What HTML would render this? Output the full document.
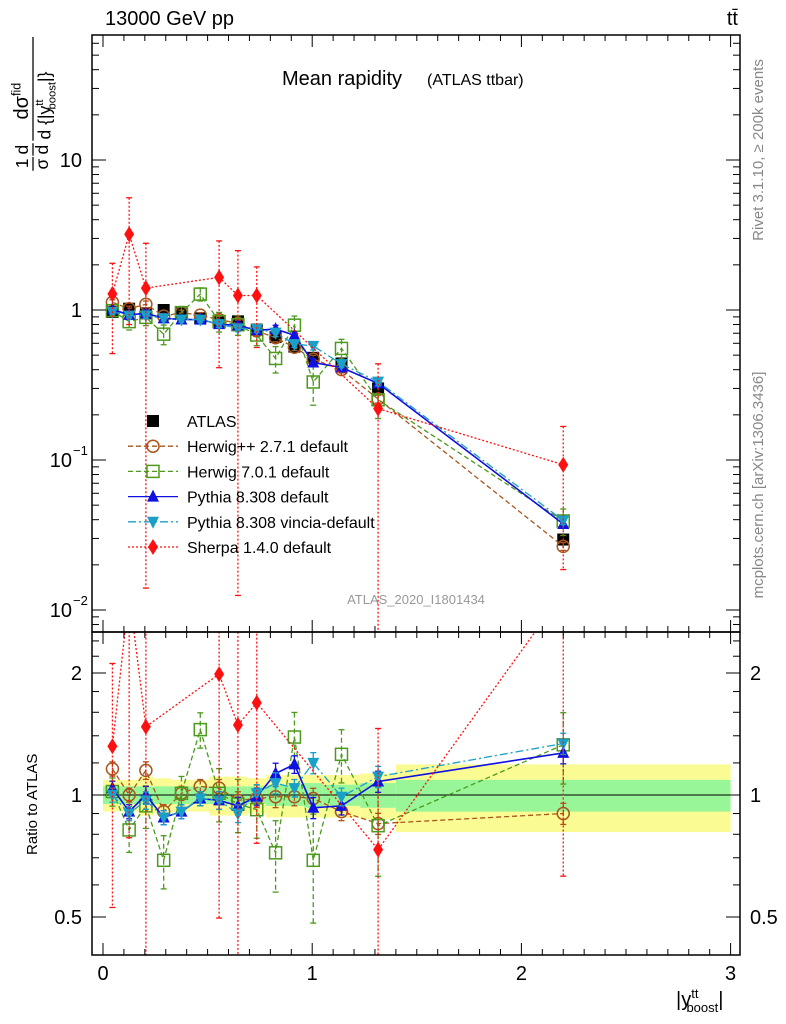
<!DOCTYPE html>
<html><head><meta charset="utf-8"><style>
html,body{margin:0;padding:0;background:#fff;overflow:hidden;width:786px;height:1024px}
svg{display:block}
svg text{font-family:"Liberation Sans",sans-serif}
</style></head><body>
<svg id="c" width="786" height="1024" xmlns="http://www.w3.org/2000/svg"></svg>
<script>
const xc=[0.045,0.125,0.205,0.29,0.375,0.465,0.555,0.645,0.735,0.825,0.915,1.005,1.14,1.315,2.2];
const edges=[0,0.09,0.17,0.24,0.33,0.42,0.51,0.6,0.69,0.78,0.87,0.96,1.05,1.23,1.4,3.0];
const atlas=[0.97,1.02,0.95,1.0,0.95,0.88,0.83,0.84,0.74,0.66,0.57,0.48,0.44,0.30,0.0295];
const greenBand=[0.05,0.05,0.05,0.05,0.05,0.05,0.05,0.05,0.05,0.06,0.06,0.07,0.06,0.07,0.09];
const yellowBand=[0.09,0.09,0.11,0.1,0.09,0.09,0.11,0.11,0.1,0.12,0.12,0.12,0.12,0.13,0.19];
const rHpp=[1.16,1.0,1.15,0.91,1.01,1.05,1.04,0.97,0.98,0.99,0.99,0.98,0.91,0.85,0.9];
const rH7=[1.02,0.82,0.94,0.69,1.01,1.45,1.01,0.95,0.92,0.72,1.39,0.69,1.26,0.84,1.33];
const rPy=[1.04,0.91,1.0,0.88,0.91,0.98,0.97,0.94,0.99,1.13,1.19,0.93,0.94,1.08,1.27];
const rVi=[1.0,0.9,0.97,0.88,0.91,0.98,0.97,0.9,1.01,1.07,1.04,1.2,0.99,1.11,1.34];
const sherX=[0.045,0.125,0.205,0.555,0.645,0.735,1.315,2.2];
const sherV=[1.28,3.2,1.4,1.65,1.25,1.25,0.22,0.093];
const sherErr=[0.6,0.75,0.99,0.75,0.99,0.55,0.99,0.8];
const errH7=[0.08,0.12,0.12,0.15,0.1,0.1,0.15,0.15,0.15,0.2,0.15,0.3,0.15,0.25,0.2];
const errSmall=[0.04,0.04,0.05,0.04,0.04,0.04,0.05,0.05,0.05,0.06,0.05,0.06,0.05,0.06,0.06];

const NS="http://www.w3.org/2000/svg",svg=document.getElementById('c');
const L=92,R=740,T=35,MB=632,RB=955;
const X=v=>103+(v)*209.2;
const Y=v=>310-150*Math.log10(v);
const YR=v=>795-122*Math.log2(v);
function el(t,a,p){const e=document.createElementNS(NS,t);for(const k in a)e.setAttribute(k,a[k]);(p||svg).appendChild(e);return e}
function txt(x,y,s,a,p){const e=el('text',Object.assign({x:x,y:y,'font-size':18},a||{}),p);e.textContent=s;return e}
const defs=el('defs',{});
const c1=el('clipPath',{id:'cm'},defs);el('rect',{x:L,y:T,width:R-L,height:MB-T},c1);
const c2=el('clipPath',{id:'cr'},defs);el('rect',{x:L,y:MB,width:R-L,height:RB-MB},c2);
const gm=el('g',{'clip-path':'url(#cm)'});
const gr=el('g',{'clip-path':'url(#cr)'});
for(let i=0;i<xc.length;i++){
 const y=el('rect',{x:X(edges[i]),y:YR(1+yellowBand[i]),width:X(edges[i+1])-X(edges[i]),height:YR(1-yellowBand[i])-YR(1+yellowBand[i]),fill:'#fbfb94'},gr);
 
 const g=el('rect',{x:X(edges[i]),y:YR(1+greenBand[i]),width:X(edges[i+1])-X(edges[i]),height:YR(1-greenBand[i])-YR(1+greenBand[i]),fill:'#98f598'},gr);
 
}
el('line',{x1:L,x2:R,y1:YR(1),y2:YR(1),stroke:'#000','stroke-width':1},gr);
function marker(g,type,x,y,col){
 const s=6;let m;
 if(type=='sq')m=el('rect',{x:x-s,y:y-s,width:2*s,height:2*s,fill:'#000'},g);
 else if(type=='osq')m=el('rect',{x:x-s,y:y-s,width:2*s,height:2*s,fill:'none',stroke:col,'stroke-width':1.5},g);
 else if(type=='oc')m=el('circle',{cx:x,cy:y,r:6,fill:'none',stroke:col,'stroke-width':1.5},g);
 else if(type=='up')m=el('polygon',{points:`${x},${y-7} ${x-6},${y+5} ${x+6},${y+5}`,fill:col},g);
 else if(type=='dn')m=el('polygon',{points:`${x},${y+7} ${x-6},${y-5} ${x+6},${y-5}`,fill:col},g);
 else m=el('polygon',{points:`${x},${y-8} ${x-5},${y} ${x},${y+8} ${x+5},${y}`,fill:col},g);
 return m;
}
function series(g,name,xs,vals,errs,col,dash,type,Yf,sw){
 const pts=xs.map((x,i)=>X(x)+','+Yf(vals[i])).join(' ');
 if(dash!==null){const l=el('polyline',{points:pts,fill:'none',stroke:col,'stroke-width':sw||1.3,'stroke-dasharray':dash},g);
 }
 xs.forEach((x,i)=>{
  const lo=Math.max(vals[i]*(1-errs[i]),1e-4),hi=vals[i]*(1+errs[i]);
  el('line',{x1:X(x),x2:X(x),y1:Yf(hi),y2:Yf(lo),stroke:col,'stroke-width':1.3,'stroke-dasharray':dash||''},g);
  el('line',{x1:X(x)-3,x2:X(x)+3,y1:Yf(hi),y2:Yf(hi),stroke:col,'stroke-width':1.3},g);
  el('line',{x1:X(x)-3,x2:X(x)+3,y1:Yf(lo),y2:Yf(lo),stroke:col,'stroke-width':1.3},g);
  const m=marker(g,type,X(x),Yf(vals[i]),col);
  
 });
}
const mHpp=atlas.map((a,i)=>a*rHpp[i]),mH7=atlas.map((a,i)=>a*rH7[i]),mPy=atlas.map((a,i)=>a*rPy[i]),mVi=atlas.map((a,i)=>a*rVi[i]);
const sherR=sherX.map((x,i)=>sherV[i]/atlas[xc.indexOf(x)]);
const cols={hpp:'#a8561c',h7:'#4c9a1c',py:'#1010e0',vi:'#1aa0c8',sh:'#ff1010'};
[[gm,Y,{a:atlas,hpp:mHpp,h7:mH7,py:mPy,vi:mVi,sh:sherV}],[gr,YR,{a:null,hpp:rHpp,h7:rH7,py:rPy,vi:rVi,sh:sherR}]].forEach(([g,Yf,d])=>{
 if(d.a)series(g,'atlas',xc,d.a,errSmall.map(e=>e*0.5),'#000',null,'sq',Yf);
 series(g,'herwigpp',xc,d.hpp,errSmall,cols.hpp,'5,3','oc',Yf);
 series(g,'herwig7',xc,d.h7,errH7,cols.h7,'5,3','osq',Yf);
 series(g,'pythia',xc,d.py,errSmall,cols.py,'','up',Yf,1.6);
 series(g,'vincia',xc,d.vi,errSmall,cols.vi,'8,3,2,3','dn',Yf);
 series(g,'sherpa',sherX,d.sh,sherErr,cols.sh,'2,2','dia',Yf);
});
let f=el('rect',{x:L,y:T,width:R-L,height:MB-T,fill:'none',stroke:'#000','stroke-width':1.5});
f=el('rect',{x:L,y:MB,width:R-L,height:RB-MB,fill:'none',stroke:'#000','stroke-width':1.5});
for(let v=0;v<=3.001;v+=0.1){
 const big=Math.abs(v-Math.round(v))<1e-6,len=big?12:6;
 [[MB,-1],[T,1],[RB,-1],[MB,1]].forEach(([y0,d])=>el('line',{x1:X(v),x2:X(v),y1:y0,y2:y0+d*len,stroke:'#000'}));
 if(big){const t=txt(X(v),980,String(Math.round(v)),{'text-anchor':'middle','font-size':20});}
}
for(let e=-3;e<=1;e++)for(let k=1;k<10;k++){const v=k*Math.pow(10,e),y=Y(v);if(y<T||y>MB)continue;
 const len=k==1?14:7;el('line',{x1:L,x2:L+len,y1:y,y2:y,stroke:'#000'});el('line',{x1:R,x2:R-len,y1:y,y2:y,stroke:'#000'});}
txt(82,167,'10',{'text-anchor':'end','font-size':20});
txt(82,317,'1',{'text-anchor':'end','font-size':20});
let t=txt(72,467,'10',{'text-anchor':'end','font-size':20});txt(73,455,'−1',{'font-size':13});
t=txt(72,617,'10',{'text-anchor':'end','font-size':20});txt(73,605,'−2',{'font-size':13});
[0.5,0.6,0.7,0.8,0.9,1,1.2,1.4,1.6,1.8,2,2.2,2.4].forEach(v=>{const y=YR(v),len=(v==0.5||v==1||v==2)?14:7;
 el('line',{x1:L,x2:L+len,y1:y,y2:y,stroke:'#000'});el('line',{x1:R,x2:R-len,y1:y,y2:y,stroke:'#000'});});
[[2,'2'],[1,'1'],[0.5,'0.5']].forEach(([v,s])=>{txt(82,YR(v)+7,s,{'text-anchor':'end','font-size':20});txt(750,YR(v)+7,s,{'font-size':20});});
txt(105,25,'13000 GeV pp',{'font-size':20});
txt(738,25,'tt̄',{'font-size':20,'text-anchor':'end'});
t=txt(282,85,'Mean rapidity',{'font-size':20});
txt(427,85,'(ATLAS ttbar)',{'font-size':16});
txt(416,604,'ATLAS_2020_I1801434',{'font-size':13,fill:'#999','text-anchor':'middle'});
const yt=el('g',{transform:'translate(33,172) rotate(-90) scale(1.25)'});
txt(3,-4,'1',{'font-size':14},yt);el('line',{x1:1,x2:12,y1:0,y2:0,stroke:'#000'},yt);txt(2,12,'σ',{'font-size':14},yt);
txt(14,-4,'d',{'font-size':14},yt);el('line',{x1:13,x2:23,y1:0,y2:0,stroke:'#000'},yt);txt(14,12,'d',{'font-size':14},yt);
const nu=txt(42,-4,'',{'font-size':16},yt);nu.innerHTML='dσ<tspan font-size="10" dy="-6">fid</tspan>';
el('line',{x1:25,x2:108,y1:0,y2:0,stroke:'#000'},yt);
const de=txt(26,14,'',{'font-size':14},yt);de.innerHTML='d {|y<tspan font-size="9" dy="-6">tt</tspan><tspan font-size="9" dx="-8" dy="10">boost</tspan><tspan dy="-4">|}</tspan>';
txt(0,0,'Ratio to ATLAS',{'font-size':15,transform:'translate(37,855) rotate(-90)'});
t=txt(676,1006,'',{'font-size':20});t.innerHTML='|y<tspan font-size="13" dy="-8">tt</tspan><tspan font-size="13" dx="-12" dy="14">boost</tspan><tspan dy="-6">|</tspan>';
txt(0,0,'Rivet 3.1.10, ≥ 200k events',{'font-size':15,fill:'#888','text-anchor':'middle',transform:'translate(763,150) rotate(-90)'});
txt(0,0,'mcplots.cern.ch [arXiv:1306.3436]',{'font-size':15,fill:'#888','text-anchor':'middle',transform:'translate(763,485) rotate(-90)'});
const leg=el('g',{});
[['ATLAS','#000',null,'sq'],['Herwig++ 2.7.1 default',cols.hpp,'5,3','oc'],['Herwig 7.0.1 default',cols.h7,'5,3','osq'],['Pythia 8.308 default',cols.py,'','up'],['Pythia 8.308 vincia-default',cols.vi,'8,3,2,3','dn'],['Sherpa 1.4.0 default',cols.sh,'2,2','dia']].forEach((e,i)=>{
 const y=421+i*25.2,g=el('g',{},leg);
 if(e[2]!==null)el('line',{x1:128,x2:178,y1:y,y2:y,stroke:e[1],'stroke-width':1.3,'stroke-dasharray':e[2]},g);
 marker(g,e[3],153,y,e[1]);
 txt(187,y+6,e[0],{'font-size':16},g);
});
</script>
</body></html>
